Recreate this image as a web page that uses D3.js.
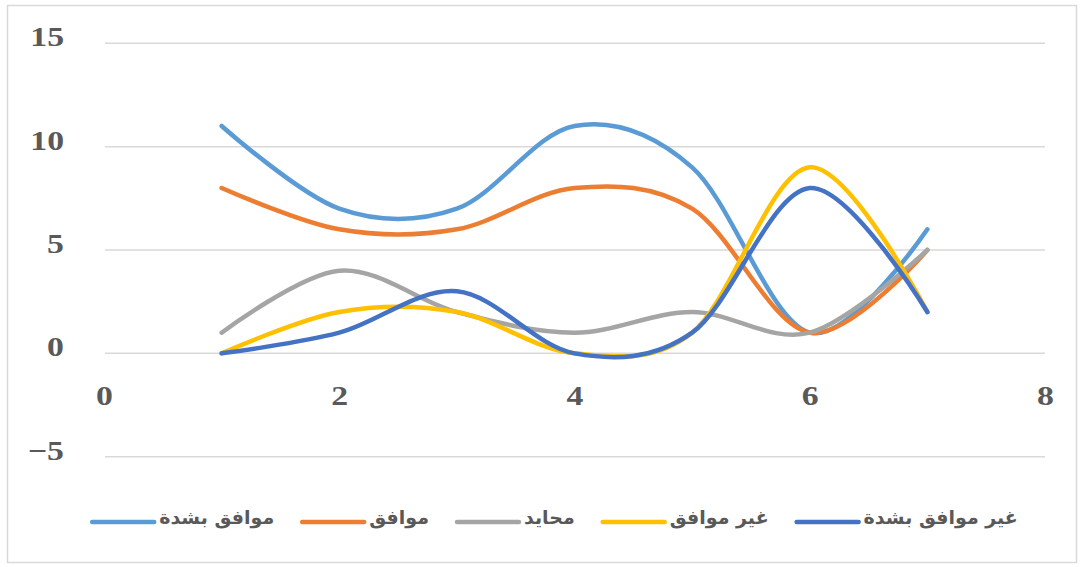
<!DOCTYPE html>
<html>
<head>
<meta charset="utf-8">
<script src="https://cdn.jsdelivr.net/npm/d3@7"></script>
<style>
  html, body { margin: 0; padding: 0; background: #fff; }
  svg { display: block; }
</style>
</head>
<body>
<svg id="chart" width="1083" height="567"></svg>
<script>
// Survey responses per item (x = item number 1..7)
const xValues = [1, 2, 3, 4, 5, 6, 7];
const stronglyAgree = [11, 7, 7, 11, 9, 1, 6];
const agree = [8, 6, 6, 8, 7, 1, 5];
const neutral = [1, 4, 2, 1, 2, 1, 5];
const disagree = [0, 2, 2, 0, 1, 9, 2];
const stronglyDisagree = [0, 1, 3, 0, 1, 8, 2];

const seriesNames = ["موافق بشدة", "موافق", "محايد", "غير موافق", "غير موافق بشدة"];
const seriesColors = ["#5B9BD5", "#ED7D31", "#A5A5A5", "#FFC000", "#4472C4"];
const seriesValues = [stronglyAgree, agree, neutral, disagree, stronglyDisagree];

const yTicks = [-5, 0, 5, 10, 15];
const xTicks = [0, 2, 4, 6, 8];

const svg = d3.select("#chart");
const W = 1083, H = 567;
const labelFont = "'Liberation Serif', 'DejaVu Serif', serif";
const stretch = 1.25; // wide bold numerals

// chart frame
svg.append("rect")
  .attr("x", 7.5).attr("y", 5.5)
  .attr("width", W - 14).attr("height", H - 10)
  .attr("fill", "#fff").attr("stroke", "#d9d9d9").attr("stroke-width", 1.5);

const x = d3.scaleLinear().domain([0, 8]).range([104, 1045]);
const y = d3.scaleLinear().domain([-5, 15]).range([456.7, 43.3]);

// horizontal gridlines
svg.append("g")
  .selectAll("line")
  .data(yTicks)
  .join("line")
  .attr("x1", 105).attr("x2", 1045)
  .attr("y1", d => y(d)).attr("y2", d => y(d))
  .attr("stroke", "#d9d9d9").attr("stroke-width", 1.5);

// y axis labels
const yAxis = d3.axisLeft(y).tickValues(yTicks).tickSize(0).tickPadding(0)
  .tickFormat(d => d < 0 ? "\u2212" + Math.abs(d) : d);
svg.append("g")
  .attr("transform", "translate(64,-6)")
  .call(yAxis)
  .call(g => g.select(".domain").remove())
  .selectAll("text")
  .attr("transform", `scale(${stretch},1)`)
  .attr("font-family", labelFont)
  .attr("font-weight", "bold")
  .attr("font-size", 27)
  .attr("fill", "#595959");

// x axis labels (placed under the zero line)
const xAxis = d3.axisBottom(x).tickValues(xTicks).tickSize(0).tickPadding(0);
svg.append("g")
  .attr("transform", `translate(0,${y(0) + 52})`)
  .call(xAxis)
  .call(g => g.select(".domain").remove())
  .selectAll("text")
  .attr("dy", "0")
  .attr("transform", `scale(${stretch},1)`)
  .attr("font-family", labelFont)
  .attr("font-weight", "bold")
  .attr("font-size", 27)
  .attr("fill", "#595959");

// smoothed series lines
const line = d3.line()
  .x((d, i) => x(xValues[i]))
  .y(d => y(d))
  .curve(d3.curveCardinal.tension(0));

svg.append("g")
  .selectAll("path")
  .data(seriesValues)
  .join("path")
  .attr("d", d => line(d))
  .attr("fill", "none")
  .attr("stroke", (d, i) => seriesColors[i])
  .attr("stroke-width", 4.5)
  .attr("stroke-linecap", "round")
  .attr("stroke-linejoin", "round");

// legend
const legend = svg.append("g").attr("class", "legend");
const legendY = 522;
const lineLen = 62, gapLT = 5, gapItem = 28;
const items = legend.selectAll("g")
  .data(seriesNames)
  .join("g");
items.append("line")
  .attr("x1", 0).attr("x2", lineLen)
  .attr("y1", 0).attr("y2", 0)
  .attr("stroke", (d, i) => seriesColors[i])
  .attr("stroke-width", 4.5)
  .attr("stroke-linecap", "round");
items.append("text")
  .attr("x", lineLen + gapLT)
  .attr("y", 0)
  .attr("dy", "0.1em")
  .attr("text-anchor", "start")
  .attr("font-family", "'DejaVu Sans', 'Noto Sans', sans-serif")
  .attr("font-weight", "bold")
  .attr("font-size", 19)
  .attr("fill", "#595959")
  .text(d => d);

const widths = [];
items.each(function () {
  widths.push(lineLen + gapLT + d3.select(this).select("text").node().getComputedTextLength());
});
const total = d3.sum(widths) + gapItem * (widths.length - 1);
let cx = 555 - total / 2;
items.attr("transform", (d, i) => {
  const t = `translate(${cx},${legendY})`;
  cx += widths[i] + gapItem;
  return t;
});
</script>
</body>
</html>
